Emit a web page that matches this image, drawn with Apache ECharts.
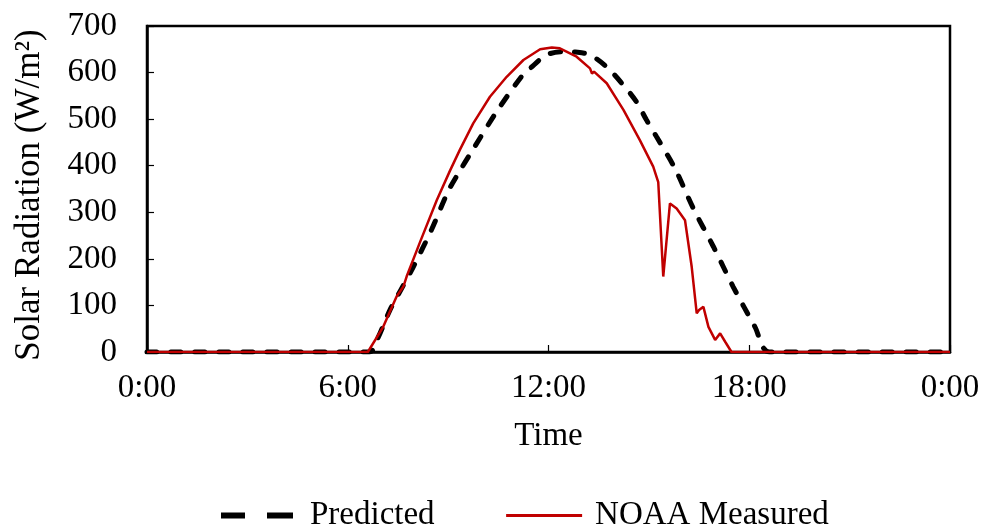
<!DOCTYPE html>
<html>
<head>
<meta charset="utf-8">
<script src="https://cdn.jsdelivr.net/npm/echarts@6/dist/echarts.min.js"></script>
<style>html,body{margin:0;padding:0;background:#fff}#c{width:987px;height:529px}</style>
</head>
<body>
<div id="c"></div>
<script>
const xTicks = [0, 6, 12, 18, 24];
const yTicks = [0, 100, 200, 300, 400, 500, 600, 700];

const predictedHours = [0, 6.65, 6.9, 7.26, 7.6, 7.96, 8.5, 9.0, 9.3, 9.7, 10.45, 11.2, 11.45, 11.95, 12.44, 12.8, 13.24, 13.74, 14.24, 14.63, 14.93, 15.23, 15.78, 16.33, 16.93, 17.52, 18.17, 18.6, 24];
const predictedValues = [0, 0, 30, 90, 135, 183, 262, 345, 383, 430, 516, 592, 609, 638, 645, 644, 638, 612, 573, 537, 498, 462, 394, 308, 226, 140, 54, 0, 0];

const measuredHours = [0, 6.6, 7.06, 7.46, 7.66, 7.76, 8.16, 8.66, 9.06, 9.35, 9.75, 10.25, 10.75, 11.25, 11.75, 12.1, 12.34, 12.84, 13.24, 13.3, 13.36, 13.74, 14.24, 14.73, 15.13, 15.28, 15.33, 15.43, 15.63, 15.83, 16.08, 16.28, 16.43, 16.5, 16.63, 16.78, 16.98, 17.13, 17.28, 17.47, 24];
const measuredValues = [0, 0, 54, 119, 140, 162, 236, 326, 390, 434, 491, 548, 591, 627, 650, 654, 652, 634, 609, 598, 602, 577, 520, 455, 398, 365, 362, 162, 319, 308, 283, 183, 83, 90, 97, 54, 26, 40, 22, 0, 0];

const font = 'Liberation Serif, Times New Roman, serif';
const pred = predictedHours.map((h, i) => [h, predictedValues[i]]);
const meas = measuredHours.map((h, i) => [h, measuredValues[i]]);

const chart = echarts.init(document.getElementById('c'));
chart.setOption({
  animation: false,
  backgroundColor: '#fff',
  textStyle: { fontFamily: font, color: '#000' },
  grid: { left: 147, right: 37, top: 26, bottom: 177, show: true, borderColor: '#000', borderWidth: 2.5, backgroundColor: 'transparent' },
  xAxis: {
    type: 'value', min: xTicks[0], max: xTicks[xTicks.length - 1], interval: 6,
    name: 'Time', nameLocation: 'middle', nameGap: 68,
    nameTextStyle: { fontFamily: font, fontSize: 33, color: '#000' },
    axisLine: { lineStyle: { color: '#000', width: 2.5 } },
    axisTick: { inside: true, length: 7, lineStyle: { color: '#000', width: 1.2 } },
    axisLabel: { fontFamily: font, fontSize: 33, color: '#000', margin: 20, formatter: v => (v % 24) + ':00' },
    splitLine: { show: false }
  },
  yAxis: {
    type: 'value', min: yTicks[0], max: yTicks[yTicks.length - 1], interval: 100,
    name: 'Solar Radiation (W/m²)', nameLocation: 'middle', nameGap: 100,
    nameTextStyle: { fontFamily: font, fontSize: 35, color: '#000', padding: [0, 12, 0, 0] },
    axisLine: { show: true, lineStyle: { color: '#000', width: 2.5 } },
    axisTick: { show: true, inside: true, length: 7, lineStyle: { color: '#000', width: 1.2 } },
    axisLabel: { fontFamily: font, fontSize: 33, color: '#000', margin: 30 },
    splitLine: { show: false }
  },
  legend: {
    top: 494, left: 216, itemWidth: 76, itemHeight: 20, itemGap: 70,
    itemStyle: { opacity: 0, borderWidth: 0 },
    textStyle: { fontFamily: font, fontSize: 33, color: '#000', padding: [0, 0, 0, 8] },
    data: [
      { name: 'Predicted', icon: 'path://M0,0M76,20M0,7H24V13H0Z M46,7H72V13H46Z', itemStyle: { opacity: 1, color: '#000' } },
      { name: 'NOAA Measured', lineStyle: { color: '#C00000', width: 3 } }
    ]
  },
  series: [
    { name: 'Predicted', type: 'line', data: pred, showSymbol: false, symbol: 'none', smooth: 0.3, z: 2,
      lineStyle: { color: '#000', width: 5, type: [10, 14], cap: 'round' }, itemStyle: { color: '#000' } },
    { name: 'NOAA Measured', type: 'line', data: meas, showSymbol: false, symbol: 'none', z: 3,
      lineStyle: { color: '#C00000', width: 2.5 }, itemStyle: { color: '#C00000' } }
  ]
});
</script>
</body>
</html>
